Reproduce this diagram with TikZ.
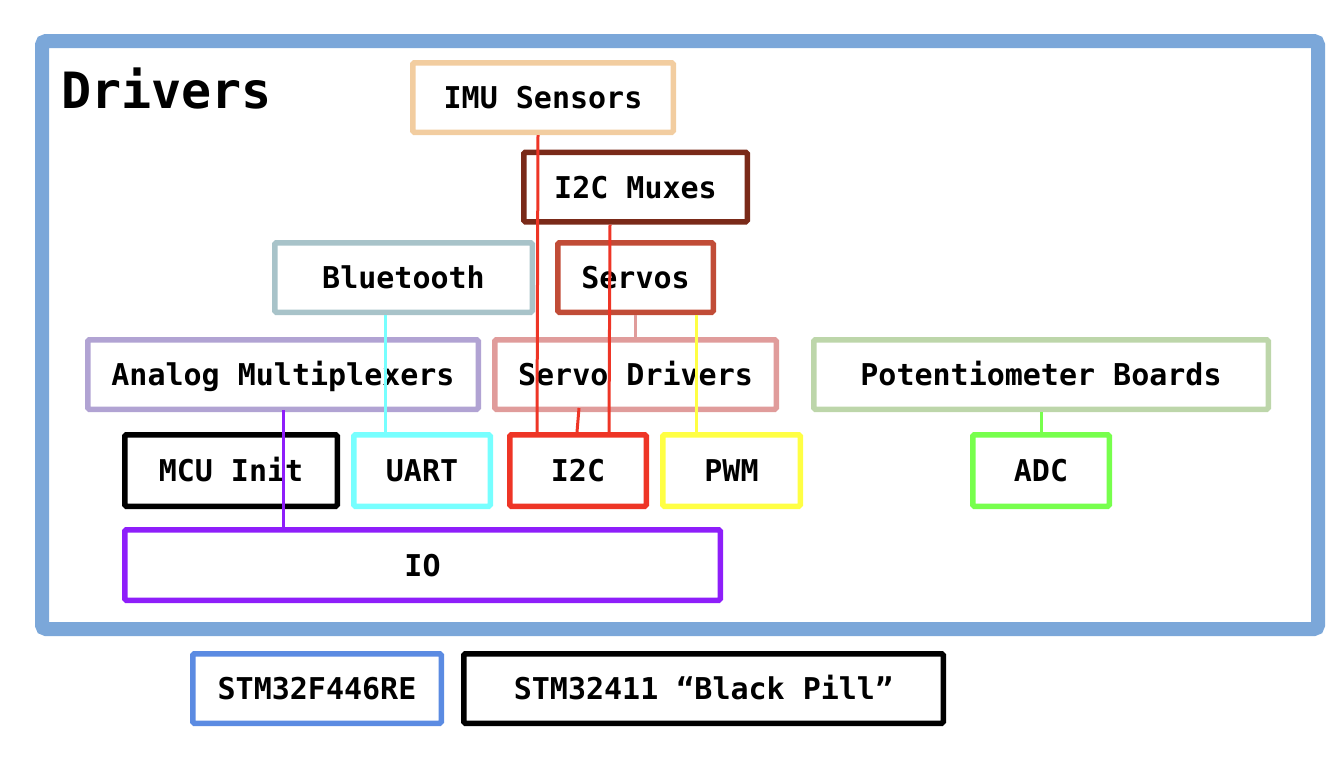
\documentclass[tikz,border=0pt]{standalone}
\usepackage{fontspec}
\newfontfamily\drvmono{DejaVu Sans Mono}
\definecolor{framecol}{RGB}{123,167,217}
\definecolor{imucol}{RGB}{242,205,160}
\definecolor{muxcol}{RGB}{122,42,25}
\definecolor{btcol}{RGB}{168,195,201}
\definecolor{servocol}{RGB}{193,76,55}
\definecolor{amuxcol}{RGB}{177,163,211}
\definecolor{sdrvcol}{RGB}{224,156,155}
\definecolor{potcol}{RGB}{189,214,170}
\definecolor{uartcol}{RGB}{119,255,255}
\definecolor{i2ccol}{RGB}{238,53,38}
\definecolor{pwmcol}{RGB}{255,255,68}
\definecolor{adccol}{RGB}{119,255,77}
\definecolor{iocol}{RGB}{142,30,250}
\definecolor{stmcol}{RGB}{91,139,226}
\begin{document}
\begin{tikzpicture}[x=1pt,y=-1pt,
    block/.style={draw,line width=5.5pt,rounded corners=1.5pt,inner sep=0pt,
      minimum height=69.5pt,text height=22pt,text depth=0pt,
      font=\drvmono\fontsize{30}{30}\selectfont\bfseries},
    wire/.style={line width=3pt}]
  \useasboundingbox (0,0) rectangle (1342,756);
  \draw[framecol,line width=14pt,rounded corners=4pt] (42,41) rectangle (1318,629);
  \node[anchor=base west,inner sep=0pt,font=\drvmono\fontsize{50}{50}\selectfont\bfseries]
    (title) at (61,108) {Drivers};
  \draw
    (543,97.5) node[block,imucol,text=black,minimum width=260.5pt] (imu){IMU Sensors}
    (635.5,187) node[block,muxcol,text=black,minimum width=223.5pt] (mux){I2C Muxes}
    (403.5,277.5) node[block,btcol,text=black,minimum width=257.5pt] (bt){Bluetooth}
    (635.5,277.5) node[block,servocol,text=black,minimum width=155.5pt] (servo){Servos}
    (283,374.5) node[block,amuxcol,text=black,minimum width=390.5pt] (amux){Analog Multiplexers}
    (635.5,374.5) node[block,sdrvcol,text=black,minimum width=281.5pt] (sdrv){Servo Drivers}
    (1041,374.5) node[block,potcol,text=black,minimum width=454.5pt] (pot){Potentiometer Boards}
    (231,470.5) node[block,black,minimum width=212.5pt,minimum height=71.5pt] (mcu){MCU Init}
    (422,470.5) node[block,uartcol,text=black,minimum width=136.5pt,minimum height=71.5pt] (uart){UART}
    (578,470.5) node[block,i2ccol,text=black,minimum width=136.5pt,minimum height=71.5pt] (i2c){I2C}
    (731.5,470.5) node[block,pwmcol,text=black,minimum width=137.5pt,minimum height=71.5pt] (pwm){PWM}
    (1041,470.5) node[block,adccol,text=black,minimum width=136.5pt,minimum height=71.5pt] (adc){ADC}
    (422.5,565) node[block,iocol,text=black,minimum width=595.5pt,minimum height=70.5pt] (io){IO}
    (317,688.5) node[block,stmcol,text=black,minimum width=248.5pt] (f446){STM32F446RE}
    (703.5,688.5) node[block,black,minimum width=479.5pt] (pill){STM32411 “Black Pill”};
  \begin{scope}[wire]
    \draw[i2ccol] ([xshift=-5pt]imu.south) to ([xshift=-41pt]i2c.north);
    \draw[i2ccol] ([xshift=-25.5pt]mux.south) to ([xshift=31pt]i2c.north);
    \draw[i2ccol] ([xshift=-56.5pt,yshift=4pt]sdrv.south) to ([xshift=-1pt]i2c.north);
    \draw[sdrvcol] (servo.south) to (sdrv.north);
    \draw[pwmcol] ([xshift=60.5pt]servo.south) to ([xshift=-35.5pt]pwm.north);
    \draw[uartcol] ([xshift=-18.5pt]bt.south) to ([xshift=-37pt]uart.north);
    \draw[iocol] ([yshift=2pt]amux.south) to ([xshift=-139.5pt,yshift=-5pt]io.north);
    \draw[adccol] (pot.south) to (adc.north);
  \end{scope}
\end{tikzpicture}
\end{document}
